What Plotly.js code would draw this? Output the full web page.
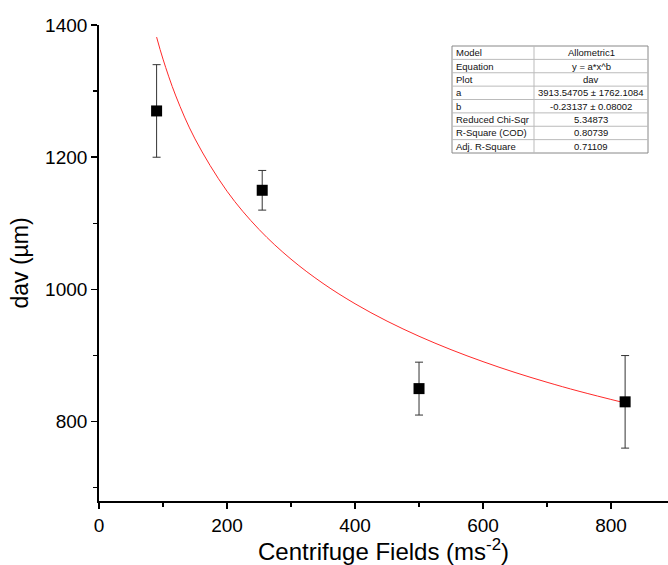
<!DOCTYPE html>
<html><head><meta charset="utf-8">
<script src="https://cdn.plot.ly/plotly-3.0.1.min.js"></script>
<style>html,body{margin:0;padding:0;background:#fff}</style>
</head><body><div id="chart" style="width:668px;height:565px"></div>
<script>
// measured points
const fieldX = [90, 255, 500, 822];
const davY = [1270, 1150, 850, 830];
const davErr = [70, 30, 40, 70];
// fit curve
const fitX = [90, 100, 120, 150, 200, 250, 300, 350, 400, 450, 500, 550, 600, 650, 700, 750, 822];
const fitY = [1381.7, 1348.4, 1292.7, 1227.7, 1148.6, 1090.8, 1045.8, 1009.1, 978.4, 952.1, 929.2, 908.9, 890.8, 874.4, 859.6, 846.0, 828.3];
// fit table
const tableLabels = ["Model", "Equation", "Plot", "a", "b", "Reduced Chi-Sqr", "R-Square (COD)", "Adj. R-Square"];
const tableValues = ["Allometric1", "y = a*x^b", "dav", "3913.54705 ± 1762.1084", "-0.23137 ± 0.08002", "5.34873", "0.80739", "0.71109"];

const W = 668, H = 565, L = 99, R = 0, T = 25, B = 64;
const pw = W - L - R, ph = H - T - B;
const px = v => (v - L) / pw;
const py = v => (H - B - v) / ph;

const tLeft = 452, tMid = 534, tRight = 648, tTop = 46, tBot = 153;
const rowH = (tBot - tTop) / tableLabels.length;
const shapes = [];
const annotations = [];
shapes.push({type: 'rect', xref: 'paper', yref: 'paper', x0: px(tLeft), x1: px(tRight), y0: py(tBot), y1: py(tTop), line: {color: '#888', width: 1}, fillcolor: 'white', layer: 'above'});
shapes.push({type: 'line', xref: 'paper', yref: 'paper', x0: px(tMid), x1: px(tMid), y0: py(tBot), y1: py(tTop), line: {color: '#bbb', width: 1}, layer: 'above'});
for (let i = 1; i < tableLabels.length; i++) {
  const yy = tTop + i * rowH;
  shapes.push({type: 'line', xref: 'paper', yref: 'paper', x0: px(tLeft), x1: px(tRight), y0: py(yy), y1: py(yy), line: {color: '#bbb', width: 1}, layer: 'above'});
}
tableLabels.forEach((lab, i) => {
  const yc = tTop + (i + 0.5) * rowH;
  annotations.push({xref: 'paper', yref: 'paper', x: px(tLeft + 2), y: py(yc), text: lab, showarrow: false, xanchor: 'left', yanchor: 'middle', font: {family: 'Liberation Sans, Arial', size: 9.5, color: '#111'}});
  annotations.push({xref: 'paper', yref: 'paper', x: px((tMid + tRight) / 2), y: py(yc), text: tableValues[i], showarrow: false, xanchor: 'center', yanchor: 'middle', font: {family: 'Liberation Sans, Arial', size: 9.5, color: '#111'}});
});

const traces = [
  {x: fitX, y: fitY, mode: 'lines', line: {color: '#ff2a2a', width: 1, shape: 'spline'}, hoverinfo: 'skip'},
  {x: fieldX, y: davY, mode: 'markers', marker: {symbol: 'square', size: 11, color: '#000'},
   error_y: {type: 'data', array: davErr, visible: true, color: '#333', thickness: 1, width: 4}}
];

const axisCommon = {
  showgrid: false, zeroline: false, showline: true, linecolor: '#000', linewidth: 1.8,
  ticks: 'outside', ticklen: 6, tickwidth: 1.5, tickcolor: '#000',
  tickfont: {family: 'Liberation Sans, Arial', size: 19, color: '#000'},
  minor: {ticks: 'outside', ticklen: 4, tickwidth: 1.3, tickcolor: '#000', dtick: 100}
};

const layout = {
  width: W, height: H, showlegend: false,
  paper_bgcolor: '#fff', plot_bgcolor: '#fff',
  margin: {l: L, r: R, t: T, b: B},
  xaxis: Object.assign({}, axisCommon, {range: [0, 889], dtick: 200, tick0: 0,
    title: {text: 'Centrifuge Fields (ms<sup>-2</sup>)', font: {family: 'Liberation Sans, Arial', size: 24, color: '#000'}, standoff: 8}}),
  yaxis: Object.assign({}, axisCommon, {range: [680, 1400], dtick: 200, tick0: 0,
    title: {text: 'dav (µm)', font: {family: 'Liberation Sans, Arial', size: 23, color: '#000'}, standoff: 10}}),
  shapes: shapes,
  annotations: annotations
};

Plotly.newPlot('chart', traces, layout, {displayModeBar: false, staticPlot: true});
</script>
</body></html>
